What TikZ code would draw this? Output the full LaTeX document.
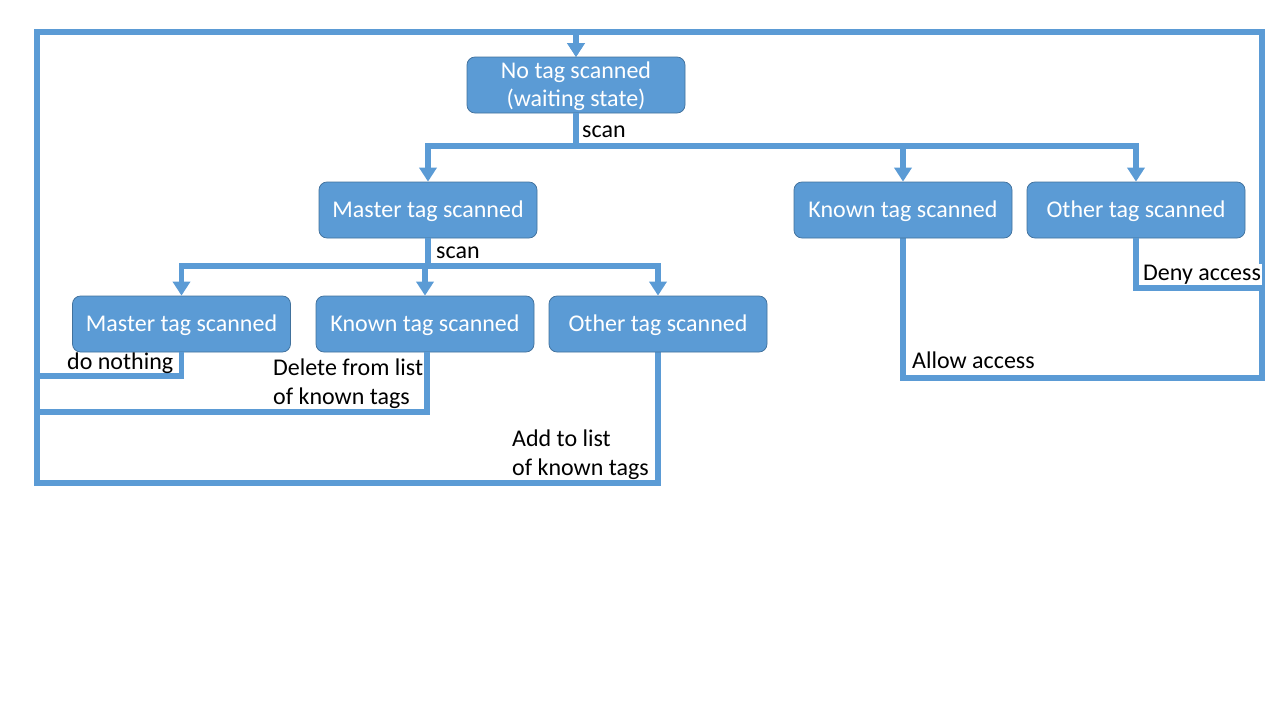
\documentclass[tikz,border=0pt]{standalone}
\usepackage{fontspec}
\setmainfont{Carlito}
\usetikzlibrary{arrows.meta}
\definecolor{boxblue}{HTML}{5B9BD5}
\definecolor{boxedge}{HTML}{41719C}
\definecolor{linkblue}{HTML}{5B9BD5}
\begin{document}
\begin{tikzpicture}[x=1pt,y=-1pt,
 state/.style={draw=boxedge, line width=0.75pt, fill=boxblue, rounded corners=8pt, minimum width=218pt, minimum height=56pt, text=white, font=\fontsize{24}{28}\selectfont, align=center, inner sep=0pt, text depth=2pt},
 link/.style={draw=linkblue, line width=5.5pt},
 arr/.style={link, -{Triangle[width=17pt,length=14pt]}},
 lbl/.style={fill=white, inner sep=1pt, font=\fontsize{24}{29}\selectfont, align=left, text=black, anchor=base west}]
\useasboundingbox (0,0) rectangle (1280,720);

% coordinates
\coordinate (tl) at (37,32);
\coordinate (tr) at (1262,32);
\coordinate (bl) at (37,483);
\coordinate (br) at (1262,378);
\coordinate (l1) at (37,376);
\coordinate (l2) at (37,412);
\coordinate (r1) at (1262,288);
\coordinate (b0) at (576,146);
\coordinate (b1) at (428,266);

% return loops
\draw[arr] (658,352) |- (bl) -- (tl) -| (576,57);
\draw[arr] (903,238) |- (br) -- (tr) -| (576,57);

% nodes
\node[state] (N0) at (576,85) {No tag scanned\\(waiting state)};
\node[state] (M1) at (428,210) {Master tag scanned};
\node[state] (K1) at (903,210) {Known tag scanned};
\node[state] (O1) at (1136,210) {Other tag scanned};
\node[state] (M2) at (181.5,324) {Master tag scanned};
\node[state] (K2) at (425,324) {Known tag scanned};
\node[state] (O2) at (658,324) {Other tag scanned};

% branches
\draw[arr] (N0.south) -- (b0) -| (M1.north);
\draw[arr] (N0.south) -- (b0) -| (K1.north);
\draw[arr] (N0.south) -- (b0) -| (O1.north);
\draw[arr] (M1.south) -- (b1) -| (M2.north);
\draw[arr] (M1.south) -- (b1) -| (K2.north);
\draw[arr] (M1.south) -- (b1) -| (O2.north);

% returns
\draw[link] (M2.south) |- (l1);
\draw[link] ([xshift=2pt]K2.south) |- (l2);
\draw[link] (O1.south) |- (r1);

% labels
\node[lbl] (s1) at (581,137) {scan};
\node[lbl] (s2) at (435,258) {scan};
\node[lbl, fill=none] (dn) at (66,369) {do nothing};
\node[lbl] (dl) at (272,404) {Delete from list\\of known tags};
\node[lbl] (ad) at (511,475) {Add to list\\of known tags};
\node[lbl] (al) at (911,368) {Allow access};
\node[lbl] (de) at (1142,280) {Deny access};
\end{tikzpicture}
\end{document}
